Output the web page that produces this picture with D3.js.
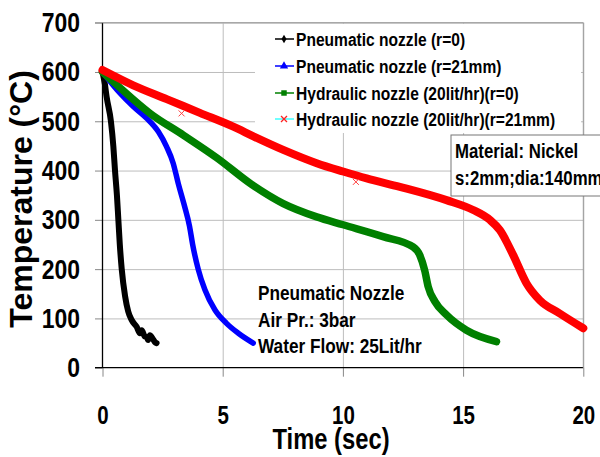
<!DOCTYPE html>
<html>
<head>
<meta charset="utf-8">
<script src="https://cdn.jsdelivr.net/npm/d3@7"></script>
<style>
  body { margin: 0; background: #fff; }
  svg { display: block; }
</style>
</head>
<body>
<svg id="chart" width="600" height="457"></svg>
<script>
// series: [time (sec), temperature (°C)]
const pneumaticCenter = [[0,600],[0.1,575],[0.17,550],[0.35,500],[0.45,450],[0.52,400],[0.6,350],[0.66,300],
  [0.72,250],[0.8,200],[0.94,145],[1.07,114],[1.21,97],[1.42,83],[1.56,70],[1.63,76],[1.75,64],[1.84,62],
  [1.9,56],[1.97,66],[2.1,58],[2.18,52],[2.25,50]];
const pneumaticEdge = [[0,600],[0.73,557],[1.28,530],[1.84,506],[2.32,479],[2.67,448],[2.94,415],[3.15,374],
  [3.4,330],[3.62,287],[3.75,250],[3.98,200],[4.26,158],[4.68,117],[5.16,90],[5.65,70],[6.27,50]];
const hydraulicCenter = [[0,600],[0.59,574],[1.98,516],[3.36,472],[4.75,426],[6.2,372],[7.52,333],[8.91,306],
  [10.01,290],[11.67,266],[12.92,245],[13.2,228],[13.4,198],[13.55,164],[13.83,134],[14.31,107],
  [15.14,76],[16.39,53]];
const hydraulicEdge = [[0,604],[1.28,573],[2.67,545],[4.05,517],[5.44,489],[6.3,469],[7.52,442],[8.91,415],
  [10.01,398],[10.99,384],[12.37,367],[14.31,340],[15.42,320],[16.11,300],[16.53,279],[17.08,229],
  [17.64,171],[18.19,137],[19.02,110],[20,80]];
const hydraulicEdgeStray = [[3.29,516],[10.54,377]];

const seriesNames = ["Pneumatic nozzle (r=0)", "Pneumatic nozzle (r=21mm)",
  "Hydraulic nozzle (20lit/hr)(r=0)", "Hydraulic nozzle (20lit/hr)(r=21mm)"];
const xTicks = [0, 5, 10, 15, 20];
const yTicks = [0, 100, 200, 300, 400, 500, 600, 700];
const noteLines = ["Pneumatic Nozzle", "Air Pr.: 3bar", "Water Flow: 25Lit/hr"];
const materialLines = ["Material: Nickel", "s:2mm;dia:140mm"];

const font = "'Liberation Sans',Arial,sans-serif";
const squeezeX = 0.82; // the reference text is condensed (Arial Narrow look)
const svg = d3.select("#chart");

// moves x/y into a transform so the glyphs can be narrowed
function squeeze(sel) {
  sel.each(function() {
    const t = d3.select(this);
    const tx = +t.attr("x") || 0, ty = +t.attr("y") || 0;
    t.attr("x", 0).attr("y", 0).attr("transform", `translate(${tx},${ty}) scale(${squeezeX},1)`);
  });
}

const x = d3.scaleLinear().domain([0, 20]).range([102.5, 583.3]);
const y = d3.scaleLinear().domain([0, 700]).range([367.7, 22.7]);

// grid
svg.append("g")
  .call(d3.axisLeft(y).tickValues(yTicks.slice(1)).tickSize(-(583.3 - 102.5)).tickFormat(""))
  .attr("transform", "translate(102.5,0)")
  .call(g => g.select(".domain").remove())
  .call(g => g.selectAll("line").attr("stroke", "#bdbdbd"));
svg.append("g")
  .call(d3.axisBottom(x).tickValues(xTicks.slice(1)).tickSize(-(367.7 - 22.7)).tickFormat(""))
  .attr("transform", "translate(0,367.7)")
  .call(g => g.select(".domain").remove())
  .call(g => g.selectAll("line").attr("stroke", "#bdbdbd"));

// legend background hides the grid
svg.append("rect").attr("x", 255).attr("y", 24).attr("width", 326).attr("height", 109).attr("fill", "#fff");

// y axis
const yAxis = svg.append("g")
  .attr("transform", "translate(102.5,0)")
  .call(d3.axisLeft(y).tickValues(yTicks).tickSize(7.5).tickPadding(15));
yAxis.select(".domain").remove();
yAxis.selectAll("line").attr("stroke", "#888");
yAxis.selectAll("text").attr("font-family", font).attr("font-weight", "bold")
  .attr("font-size", 28).attr("fill", "#000").call(squeeze);

// x axis
const xAxis = svg.append("g")
  .attr("transform", "translate(0,367.7)")
  .call(d3.axisBottom(x).tickValues(xTicks).tickSize(9).tickPadding(30));
xAxis.select(".domain").remove();
xAxis.selectAll("line").attr("stroke", "#888");
xAxis.selectAll("text").attr("font-family", font).attr("font-weight", "bold")
  .attr("font-size", 25).attr("fill", "#000").call(squeeze);

svg.append("line").attr("x1", 95).attr("x2", 583.3).attr("y1", y(0)).attr("y2", y(0))
  .attr("stroke", "#000").attr("stroke-width", 1.3);
svg.append("line").attr("x1", x(0)).attr("x2", x(0)).attr("y1", y(700)).attr("y2", y(0))
  .attr("stroke", "#000").attr("stroke-width", 1.3);
svg.append("line").attr("x1", 95).attr("x2", 583.3).attr("y1", y(700)).attr("y2", y(700))
  .attr("stroke", "#999");
svg.append("line").attr("x1", 583.3).attr("x2", 583.3).attr("y1", y(700)).attr("y2", y(0))
  .attr("stroke", "#999");

// curves
const line = d3.line().x(d => x(d[0])).y(d => y(d[1])).curve(d3.curveMonotoneX);
const curves = [
  { data: pneumaticCenter, color: "#000000", width: 6 },
  { data: pneumaticEdge, color: "#0000ff", width: 5.5 },
  { data: hydraulicCenter, color: "#008000", width: 7.5 },
  { data: hydraulicEdge, color: "#ff0000", width: 8 }
];
curves.forEach(c => {
  svg.append("path").datum(c.data)
    .attr("d", line)
    .attr("fill", "none").attr("stroke", c.color).attr("stroke-width", c.width)
    .attr("stroke-linejoin", "round").attr("stroke-linecap", "round");
});
svg.selectAll("path.stray").data(hydraulicEdgeStray).enter().append("path")
  .attr("class", "stray")
  .attr("d", d => `M${x(d[0]) - 3},${y(d[1]) - 3}L${x(d[0]) + 3},${y(d[1]) + 3}M${x(d[0]) - 3},${y(d[1]) + 3}L${x(d[0]) + 3},${y(d[1]) - 3}`)
  .attr("stroke", "#ff4040").attr("stroke-width", 1);

// legend
const legendRows = [39, 66, 93, 119];
const legendLine = ["#000000", "#0000ff", "#008000", "#40ffff"];
const legendMark = ["#000000", "#0000ff", "#008000", "#ff2020"];
const markers = [d3.symbolDiamond, d3.symbolTriangle, d3.symbolSquare, d3.symbolCross];
seriesNames.forEach((name, i) => {
  const g = svg.append("g").attr("transform", `translate(0,${legendRows[i]})`);
  g.append("line").attr("x1", 275).attr("x2", 294).attr("stroke", legendLine[i]).attr("stroke-width", 1.5);
  if (i === 3) {
    g.append("path").attr("d", "M281,-3L287,3M281,3L287,-3").attr("stroke", legendMark[i]).attr("stroke-width", 1.3);
  } else {
    g.append("path").attr("transform", "translate(284,0)")
      .attr("d", d3.symbol().type(markers[i]).size(i === 0 ? 22 : 30)())
      .attr("fill", legendMark[i]);
  }
  g.append("text").attr("x", 296).attr("y", 7).text(name)
    .attr("font-family", font).attr("font-weight", "bold").attr("font-size", 19)
    .attr("fill", "#000").call(squeeze);
});

// material box
svg.append("rect").attr("x", 451).attr("y", 135).attr("width", 170).attr("height", 61)
  .attr("fill", "#fff").attr("stroke", "#777");
materialLines.forEach((t, i) => {
  svg.append("text").attr("x", 455).attr("y", 158 + i * 27).text(t)
    .attr("font-family", font).attr("font-weight", "bold").attr("font-size", 20.5)
    .attr("fill", "#000").call(squeeze);
});

// nozzle note
noteLines.forEach((t, i) => {
  svg.append("text").attr("x", 258).attr("y", 300 + i * 26.5).text(t)
    .attr("font-family", font).attr("font-weight", "bold").attr("font-size", 21)
    .attr("fill", "#000").call(squeeze);
});

// axis titles
svg.append("text").attr("transform", "translate(32,199) rotate(-90)")
  .attr("text-anchor", "middle").text("Temperature (°C)")
  .attr("font-family", font).attr("font-weight", "bold")
  .attr("font-size", 32).attr("fill", "#000");
svg.append("text").attr("x", 331).attr("y", 449).attr("text-anchor", "middle").text("Time (sec)")
  .attr("font-family", font).attr("font-weight", "bold").attr("font-size", 29).attr("fill", "#000")
  .call(squeeze);
</script>
</body>
</html>
